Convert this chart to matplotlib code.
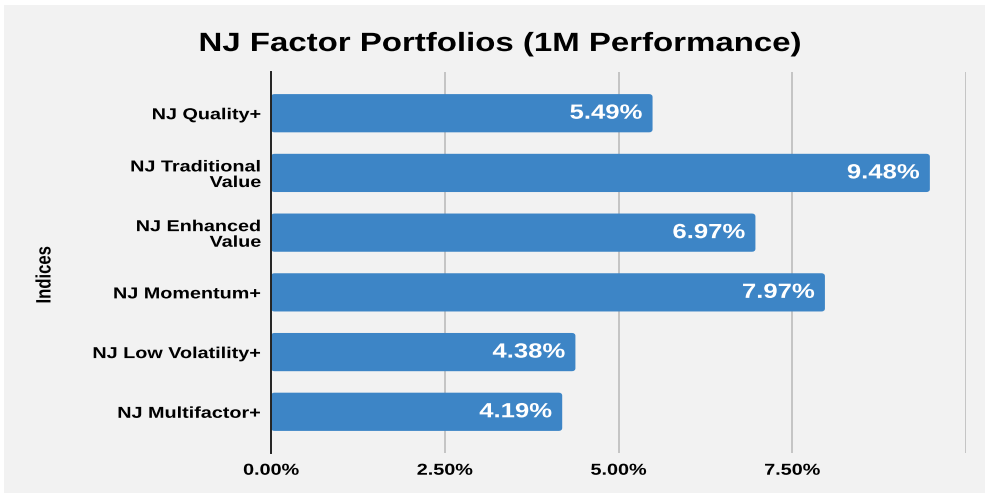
import matplotlib
matplotlib.use("Agg")
import matplotlib.pyplot as plt
from matplotlib.patches import Rectangle, FancyBboxPatch
from matplotlib.patheffects import AbstractPathEffect
from matplotlib.transforms import Affine2D

categories = ["NJ Quality+", "NJ Traditional\nValue", "NJ Enhanced\nValue",
              "NJ Momentum+", "NJ Low Volatility+", "NJ Multifactor+"]
values = [5.49, 9.48, 6.97, 7.97, 4.38, 4.19]
xticks = [0.0, 2.5, 5.0, 7.5, 10.0]
xtick_labels = ["0.00%", "2.50%", "5.00%", "7.50%", ""]
title = "NJ Factor Portfolios (1M Performance)"
ylabel = "Indices"

plt.rcParams['font.family'] = ['Liberation Sans', 'DejaVu Sans']

SX = 1.25


class HStretch(AbstractPathEffect):
    """Stretch text horizontally (screen x) about an anchor."""
    def __init__(self, sx=SX, ha="center"):
        super().__init__()
        self.sx = sx
        self.ha = ha

    def draw_path(self, renderer, gc, tpath, affine, rgbFace=None):
        verts = tpath.vertices
        if len(verts) == 0:
            renderer.draw_path(gc, tpath, affine, rgbFace)
            return
        v = affine.transform(verts)
        xmin, xmax = v[:, 0].min(), v[:, 0].max()
        if self.ha == "left":
            a = xmin
        elif self.ha == "right":
            a = xmax
        else:
            a = 0.5 * (xmin + xmax)
        aff = affine + Affine2D().translate(-a, 0).scale(self.sx, 1).translate(a, 0)
        renderer.draw_path(gc, tpath, aff, rgbFace)


W, H = 987, 498
fig = plt.figure(figsize=(W / 100, H / 100), dpi=100, facecolor="white")
bg = "#f2f2f2"
fig.patches.append(Rectangle((4 / W, 5 / H), (985 - 4) / W, (493 - 5) / H,
                             transform=fig.transFigure, facecolor=bg,
                             edgecolor="none", zorder=-10))

ax = fig.add_axes([271 / W, 1 - 453 / H, (966 - 271) / W, (453 - 72) / H])
ax.set_facecolor(bg)
ax.patch.set_alpha(0)

bar_color = "#3d85c6"
ypos = list(range(len(categories)))
h = 0.64
for y, v in zip(ypos, values):
    p = FancyBboxPatch((0, y - h / 2), v, h,
                       boxstyle="round,pad=0,rounding_size=0.05",
                       facecolor=bar_color, edgecolor="none", zorder=3)
    ax.add_patch(p)
    t = ax.text(v - 0.15, y, f"{v:.2f}%", ha="right", va="center",
                color="white", fontsize=14.8, fontweight="bold", zorder=4)
    t.set_path_effects([HStretch(ha="right")])

ax.set_xlim(0, 10.0)
ax.set_ylim(5.69, -0.69)
ax.set_yticks(ypos)
ax.set_yticklabels(categories, fontsize=11.4, fontweight="bold",
                   linespacing=1.05)
ax.set_xticks(xticks)
ax.set_xticklabels(xtick_labels, fontsize=11.4, fontweight="bold")
ax.tick_params(axis="both", length=0)
ax.tick_params(axis="y", pad=7)
ax.tick_params(axis="x", pad=7)
for lbl in ax.get_yticklabels():
    lbl.set_path_effects([HStretch(ha="right")])
for lbl in ax.get_xticklabels():
    lbl.set_path_effects([HStretch(ha="center")])

for x in xticks[1:]:
    ax.axvline(x, color="#c4c4c4", lw=1.4, zorder=1)
for s in ["top", "right", "bottom"]:
    ax.spines[s].set_visible(False)
ax.spines["left"].set_color("#222222")
ax.spines["left"].set_linewidth(1.4)
ax.spines["left"].set_zorder(5)

yl = ax.set_ylabel(ylabel, fontsize=12, fontweight="bold")
ax.yaxis.set_label_coords((52 - 271) / (966 - 271), (453 - 275) / (453 - 72))
yl.set_path_effects([HStretch(ha="center")])

tt = fig.text(500 / W, 1 - 44 / H, title, ha="center", va="center",
              fontsize=19, fontweight="bold")
tt.set_path_effects([HStretch(ha="center")])

fig.savefig("out.png", dpi=100, facecolor="white")
